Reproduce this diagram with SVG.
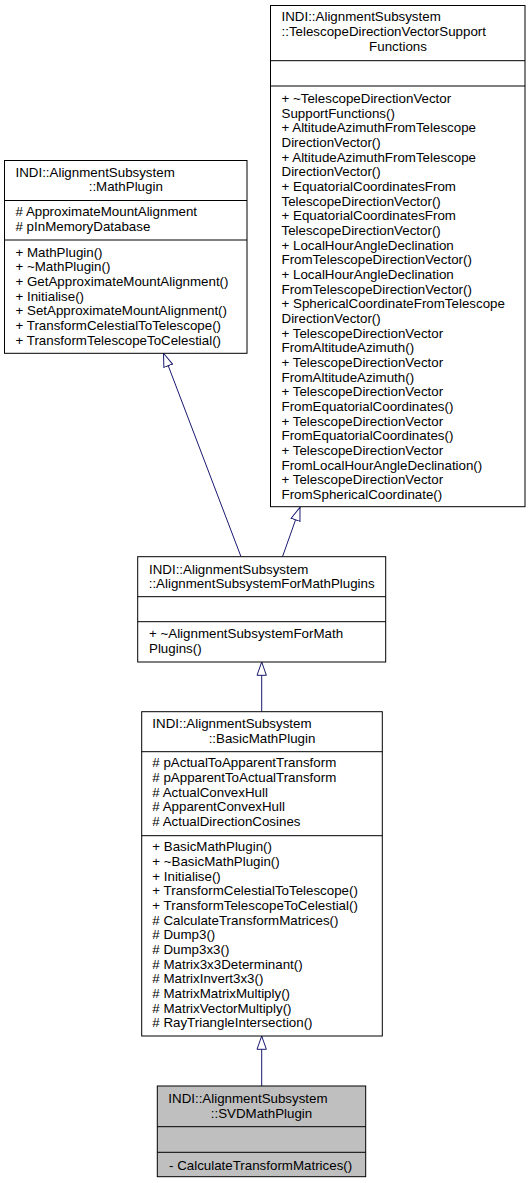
<svg xmlns="http://www.w3.org/2000/svg" width="531" height="1183" viewBox="0 0 531 1183">
<style>
.box{fill:#ffffff;stroke:#000000;stroke-width:1}
.cur{fill:#bfbfbf;stroke:#000000;stroke-width:1}
.div{stroke:#000000;stroke-width:1;fill:none}
text{font-family:"Liberation Sans",Arial,Helvetica,sans-serif;font-size:13.33px;fill:#000000}
.mid{text-anchor:middle}
.edge{stroke:#191970;stroke-width:1;fill:none;marker-end:url(#inh)}
</style>
<defs>
<marker id="inh" viewBox="0 0 14.5 10.5" refX="13.8" refY="5.25" markerWidth="14.5" markerHeight="10.5" markerUnits="userSpaceOnUse" orient="auto">
<path d="M0.5,0.58 L13.8,5.25 L0.5,9.92 Z" fill="#ffffff" stroke="#191970" stroke-width="1"/>
</marker>
</defs>
<rect width="531" height="1183" fill="#ffffff"/>
<g id="connectors">
<path class="edge" d="M241,556.7 L163.5,353.3"/>
<path class="edge" d="M282.5,556.7 L300,507.3"/>
<path class="edge" d="M261.7,711.7 L261.7,662"/>
<path class="edge" d="M261.7,1086 L261.7,1036"/>
</g>
<g id="node-TelescopeDirectionVectorSupportFunctions">
<rect class="box" x="270.5" y="5.5" width="254.5" height="501.2"/>
<line class="div" x1="270.5" y1="60.7" x2="525" y2="60.7"/>
<line class="div" x1="270.5" y1="86" x2="525" y2="86"/>
<text x="281.5" y="21.4">INDI::AlignmentSubsystem</text>
<text x="281.5" y="36.1">::TelescopeDirectionVectorSupport</text>
<text x="398" y="50.8" class="mid">Functions</text>
<text x="281.5" y="102.8">+ ~TelescopeDirectionVector</text>
<text x="281.5" y="117.5">SupportFunctions()</text>
<text x="281.5" y="132.1">+ AltitudeAzimuthFromTelescope</text>
<text x="281.5" y="146.8">DirectionVector()</text>
<text x="281.5" y="161.5">+ AltitudeAzimuthFromTelescope</text>
<text x="281.5" y="176.1">DirectionVector()</text>
<text x="281.5" y="190.8">+ EquatorialCoordinatesFrom</text>
<text x="281.5" y="205.5">TelescopeDirectionVector()</text>
<text x="281.5" y="220.1">+ EquatorialCoordinatesFrom</text>
<text x="281.5" y="234.8">TelescopeDirectionVector()</text>
<text x="281.5" y="249.5">+ LocalHourAngleDeclination</text>
<text x="281.5" y="264.1">FromTelescopeDirectionVector()</text>
<text x="281.5" y="278.8">+ LocalHourAngleDeclination</text>
<text x="281.5" y="293.5">FromTelescopeDirectionVector()</text>
<text x="281.5" y="308.1">+ SphericalCoordinateFromTelescope</text>
<text x="281.5" y="322.8">DirectionVector()</text>
<text x="281.5" y="337.5">+ TelescopeDirectionVector</text>
<text x="281.5" y="352.1">FromAltitudeAzimuth()</text>
<text x="281.5" y="366.8">+ TelescopeDirectionVector</text>
<text x="281.5" y="381.5">FromAltitudeAzimuth()</text>
<text x="281.5" y="396.1">+ TelescopeDirectionVector</text>
<text x="281.5" y="410.8">FromEquatorialCoordinates()</text>
<text x="281.5" y="425.5">+ TelescopeDirectionVector</text>
<text x="281.5" y="440.1">FromEquatorialCoordinates()</text>
<text x="281.5" y="454.8">+ TelescopeDirectionVector</text>
<text x="281.5" y="469.5">FromLocalHourAngleDeclination()</text>
<text x="281.5" y="484.1">+ TelescopeDirectionVector</text>
<text x="281.5" y="498.8">FromSphericalCoordinate()</text>
</g>
<g id="node-MathPlugin">
<rect class="box" x="4.5" y="160.5" width="242.5" height="192.8"/>
<line class="div" x1="4.5" y1="200.5" x2="247" y2="200.5"/>
<line class="div" x1="4.5" y1="240" x2="247" y2="240"/>
<text x="15.5" y="176.5">INDI::AlignmentSubsystem</text>
<text x="125.75" y="191.2" class="mid">::MathPlugin</text>
<text x="15.5" y="216.3">#  ApproximateMountAlignment</text>
<text x="15.5" y="231">#  pInMemoryDatabase</text>
<text x="15.5" y="256.7">+ MathPlugin()</text>
<text x="15.5" y="271.4">+ ~MathPlugin()</text>
<text x="15.5" y="286">+ GetApproximateMountAlignment()</text>
<text x="15.5" y="300.7">+ Initialise()</text>
<text x="15.5" y="315.4">+ SetApproximateMountAlignment()</text>
<text x="15.5" y="330">+ TransformCelestialToTelescope()</text>
<text x="15.5" y="344.7">+ TransformTelescopeToCelestial()</text>
</g>
<g id="node-AlignmentSubsystemForMathPlugins">
<rect class="box" x="137.7" y="556.7" width="248" height="105.3"/>
<line class="div" x1="137.7" y1="596.7" x2="385.7" y2="596.7"/>
<line class="div" x1="137.7" y1="621.7" x2="385.7" y2="621.7"/>
<text x="149" y="573.7">INDI::AlignmentSubsystem</text>
<text x="261.7" y="588.4" class="mid">::AlignmentSubsystemForMathPlugins</text>
<text x="149" y="638">+ ~AlignmentSubsystemForMath</text>
<text x="149" y="652.7">Plugins()</text>
</g>
<g id="node-BasicMathPlugin">
<rect class="box" x="141.7" y="711.7" width="240.6" height="324.3"/>
<line class="div" x1="141.7" y1="751.7" x2="382.3" y2="751.7"/>
<line class="div" x1="141.7" y1="835.7" x2="382.3" y2="835.7"/>
<text x="152.3" y="728">INDI::AlignmentSubsystem</text>
<text x="262" y="742.7" class="mid">::BasicMathPlugin</text>
<text x="152.3" y="767.4">#  pActualToApparentTransform</text>
<text x="152.3" y="782">#  pApparentToActualTransform</text>
<text x="152.3" y="796.7">#  ActualConvexHull</text>
<text x="152.3" y="811.4">#  ApparentConvexHull</text>
<text x="152.3" y="826">#  ActualDirectionCosines</text>
<text x="152.3" y="851.4">+ BasicMathPlugin()</text>
<text x="152.3" y="866.1">+ ~BasicMathPlugin()</text>
<text x="152.3" y="880.7">+ Initialise()</text>
<text x="152.3" y="895.4">+ TransformCelestialToTelescope()</text>
<text x="152.3" y="910.1">+ TransformTelescopeToCelestial()</text>
<text x="152.3" y="924.7">#  CalculateTransformMatrices()</text>
<text x="152.3" y="939.4">#  Dump3()</text>
<text x="152.3" y="954.1">#  Dump3x3()</text>
<text x="152.3" y="968.7">#  Matrix3x3Determinant()</text>
<text x="152.3" y="983.4">#  MatrixInvert3x3()</text>
<text x="152.3" y="998.1">#  MatrixMatrixMultiply()</text>
<text x="152.3" y="1012.7">#  MatrixVectorMultiply()</text>
<text x="152.3" y="1027.4">#  RayTriangleIntersection()</text>
</g>
<g id="node-SVDMathPlugin">
<rect class="cur" x="157.3" y="1086" width="208.4" height="90.7"/>
<line class="div" x1="157.3" y1="1126.7" x2="365.7" y2="1126.7"/>
<line class="div" x1="157.3" y1="1152.3" x2="365.7" y2="1152.3"/>
<text x="168.3" y="1103">INDI::AlignmentSubsystem</text>
<text x="261.5" y="1117.7" class="mid">::SVDMathPlugin</text>
<text x="169" y="1169.7">- CalculateTransformMatrices()</text>
</g>
</svg>
